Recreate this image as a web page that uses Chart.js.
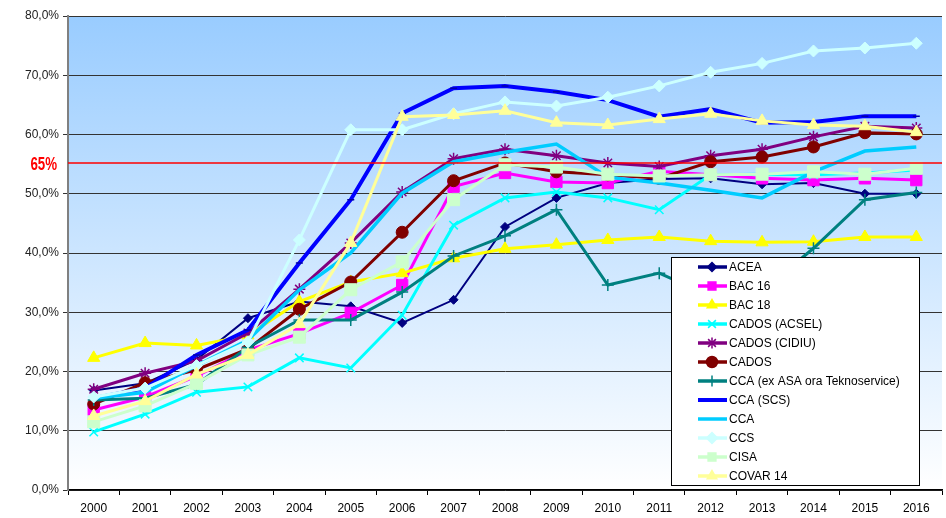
<!DOCTYPE html>
<html>
<head>
<meta charset="utf-8">
<script src="https://cdn.jsdelivr.net/npm/chart.js@4.4.0/dist/chart.umd.min.js"></script>
<style>
  html, body { margin: 0; padding: 0; background: #fff; }
  #wrap { width: 946px; height: 518px; position: relative; }
</style>
</head>
<body>
<div id="wrap"><canvas id="grafico" width="946" height="518"></canvas></div>
<script>
// Anni (categorie)
const anni = ['2000','2001','2002','2003','2004','2005','2006','2007','2008','2009','2010','2011','2012','2013','2014','2015','2016'];

// Percentuali di raccolta differenziata per consorzio
const acea      = [16.8, 18.0, 22.0, 29.0, 31.8, 31.0, 28.2, 32.1, 44.4, 49.3, 51.8, 52.5, 52.6, 51.6, 51.8, 50.0, 50.0];
const bac16     = [13.5, 15.7, 19.2, 23.6, 26.4, 29.9, 34.6, 51.2, 53.5, 52.0, 51.8, 53.8, 53.2, 52.6, 52.3, 52.6, 52.3];
const bac18     = [22.3, 24.8, 24.4, 26.1, 31.8, 35.1, 36.6, 39.1, 40.7, 41.4, 42.2, 42.7, 42.0, 41.8, 41.9, 42.7, 42.7];
const cadosAcsel= [ 9.8, 12.8, 16.5, 17.4, 22.3, 20.6, 29.5, 44.7, 49.3, 50.3, 49.3, 47.3, 53.2, 53.3, 53.2, 53.5, 54.0];
const cadosCidiu= [17.0, 19.7, 21.8, 26.5, 33.9, 41.7, 50.3, 55.9, 57.5, 56.4, 55.2, 54.6, 56.4, 57.5, 59.6, 61.4, 61.1];
const cados     = [14.5, 18.1, 20.3, 23.8, 30.5, 35.1, 43.5, 52.2, 55.2, 53.7, 53.2, 52.6, 55.4, 56.2, 57.9, 60.3, 60.1];
const ccaAsa    = [15.2, 15.5, 17.8, 24.1, 28.7, 28.7, 33.4, 39.5, 42.9, 47.3, 34.6, 36.6, 32.7, 33.5, 40.8, 49.0, 50.2];
const ccaScs    = [15.5, 17.2, 22.8, 27.0, 38.3, 49.0, 63.6, 67.8, 68.2, 67.2, 65.8, 63.0, 64.3, 62.0, 62.1, 63.1, 63.1];
const cca       = [15.5, 16.5, 21.0, 25.3, 33.8, 40.0, 50.1, 55.4, 57.0, 58.4, 52.8, 51.8, 50.6, 49.3, 53.7, 57.2, 57.9];
const ccs       = [15.7, 17.2, 21.0, 25.0, 42.2, 60.8, 60.8, 63.5, 65.5, 64.8, 66.3, 68.2, 70.5, 72.0, 74.1, 74.6, 75.4];
const cisa      = [11.5, 14.2, 18.0, 22.8, 25.8, 33.8, 38.5, 49.0, 54.9, 54.5, 53.3, 53.0, 53.2, 53.3, 53.7, 53.3, 54.3];
const covar14   = [12.5, 15.0, 19.5, 22.8, 28.0, 41.7, 63.0, 63.3, 64.0, 62.0, 61.6, 62.6, 63.5, 62.3, 61.6, 61.4, 60.4];

// Linea obiettivo
const obiettivoValore = 55.2;
const obiettivoTesto = '65%';

const serie = [
  { label: 'ACEA', data: acea, color: '#000080', style: 'rectRot', r: 4.5, w: 2 },
  { label: 'BAC 16', data: bac16, color: '#ff00ff', style: 'rect', r: 8, w: 3 },
  { label: 'BAC 18', data: bac18, color: '#ffff00', style: 'triangle', r: 7, w: 3 },
  { label: 'CADOS (ACSEL)', data: cadosAcsel, color: '#00ffff', style: 'crossRot', r: 6, w: 3 },
  { label: 'CADOS (CIDIU)', data: cadosCidiu, color: '#800080', style: 'star', r: 6, w: 3 },
  { label: 'CADOS', data: cados, color: '#800000', style: 'circle', r: 6, w: 3 },
  { label: 'CCA (ex ASA ora Teknoservice)', data: ccaAsa, color: '#008080', style: 'cross', r: 6, w: 3 },
  { label: 'CCA (SCS)', data: ccaScs, color: '#0000ff', style: 'line', r: 3.5, w: 4 },
  { label: 'CCA', data: cca, color: '#00ccff', style: 'line', r: 0, w: 3.5 },
  { label: 'CCS', data: ccs, color: '#ccffff', style: 'rectRot', r: 6, w: 3 },
  { label: 'CISA', data: cisa, color: '#ccffcc', style: 'rect', r: 8.5, w: 3 },
  { label: 'COVAR 14', data: covar14, color: '#ffff99', style: 'triangle', r: 7, w: 3 }
];

// Sfondo sfumato dell'area del grafico
const sfondoPlugin = {
  id: 'sfondo',
  beforeDraw(chart) {
    const { ctx, chartArea: a } = chart;
    const g = ctx.createLinearGradient(0, a.top, 0, a.bottom);
    g.addColorStop(0, '#99ccff');
    g.addColorStop(1, '#ffffff');
    ctx.save();
    ctx.fillStyle = g;
    ctx.fillRect(a.left, a.top, a.right - a.left, a.bottom - a.top);
    ctx.restore();
  }
};

// Linea rossa dell'obiettivo
const obiettivoPlugin = {
  id: 'obiettivo',
  afterDatasetsDraw(chart) {
    const { ctx, chartArea: a, scales } = chart;
    const y = scales.y.getPixelForValue(obiettivoValore);
    ctx.save();
    ctx.strokeStyle = '#ff0000';
    ctx.lineWidth = 1.5;
    ctx.beginPath();
    ctx.moveTo(a.left, y);
    ctx.lineTo(a.right, y);
    ctx.stroke();
    // testo condensato
    ctx.fillStyle = '#ff0000';
    ctx.font = 'bold 19px "Liberation Sans", Arial, sans-serif';
    ctx.textAlign = 'right';
    ctx.textBaseline = 'middle';
    ctx.translate(a.left - 11, y + 2);
    ctx.scale(0.7, 1);
    ctx.fillText(obiettivoTesto, 0, 0);
    ctx.restore();
  }
};

// Legenda dentro l'area del grafico
const legendaPlugin = {
  id: 'legendaBox',
  afterDraw(chart) {
    const ctx = chart.ctx;
    const x0 = 671, y0 = 257, w = 248, h = 228;
    ctx.save();
    ctx.fillStyle = '#ffffff';
    ctx.fillRect(x0, y0, w, h);
    ctx.strokeStyle = '#000000';
    ctx.lineWidth = 1;
    ctx.strokeRect(x0 + 0.5, y0 + 0.5, w, h);
    ctx.font = '12px "Liberation Sans", Arial, sans-serif';
    ctx.textBaseline = 'middle';
    ctx.textAlign = 'left';
    serie.forEach((s, i) => {
      const y = y0 + 10 + i * 19;
      ctx.strokeStyle = s.color;
      ctx.lineWidth = Math.max(s.w, 3.5);
      ctx.beginPath();
      ctx.moveTo(698, y);
      ctx.lineTo(727, y);
      ctx.stroke();
      if (s.r > 0 && s.style !== 'line') {
        ctx.fillStyle = s.color;
        ctx.strokeStyle = s.color;
        ctx.lineWidth = 1.5;
        Chart.helpers.drawPoint(ctx, { pointStyle: s.style, radius: Math.min(s.r, 5.5), borderWidth: 1.5, rotation: 0 }, 712, y);
      }
      ctx.fillStyle = '#000000';
      ctx.fillText(s.label, 729, y + 1);
    });
    ctx.restore();
  }
};

const datasets = serie.map((s, i) => ({
  label: s.label,
  data: s.data,
  borderColor: s.color,
  backgroundColor: s.color,
  borderWidth: s.w,
  pointStyle: s.style,
  pointRadius: s.r,
  pointBorderWidth: (s.style === 'cross' || s.style === 'crossRot' || s.style === 'star' || s.style === 'line') ? 1.5 : 1,
  pointBackgroundColor: s.color,
  pointBorderColor: s.style === 'line' ? '#0000aa' : s.color,
  tension: 0,
  order: serie.length - i
}));

const ctx = document.getElementById('grafico').getContext('2d');
new Chart(ctx, {
  type: 'line',
  data: { labels: anni, datasets: datasets },
  plugins: [sfondoPlugin, obiettivoPlugin, legendaPlugin],
  options: {
    responsive: false,
    animation: false,
    layout: { autoPadding: false, padding: { top: 16, right: 4, left: 0, bottom: 0 } },
    plugins: {
      legend: { display: false },
      tooltip: { enabled: false }
    },
    scales: {
      x: {
        offset: true,
        grid: { offset: true, drawOnChartArea: false, tickLength: 5, color: '#000000' },
        border: { color: '#000000', width: 1.5 },
        ticks: { color: '#000000', font: { family: '"Liberation Sans", Arial, sans-serif', size: 12 }, padding: 6 },
        afterFit(s) { s.height = 28; s.paddingLeft = 0; s.paddingRight = 0; }
      },
      y: {
        min: 0,
        max: 80,
        grid: { color: '#333333', lineWidth: 1, tickLength: 5 },
        border: { color: '#808080', width: 2 },
        ticks: {
          stepSize: 10,
          color: '#222222',
          font: { family: '"Liberation Sans", Arial, sans-serif', size: 12 },
          padding: 4,
          callback: v => v.toFixed(1).replace('.', ',') + '%'
        },
        afterFit(s) { s.width = 68; }
      }
    }
  }
});
</script>
</body>
</html>
